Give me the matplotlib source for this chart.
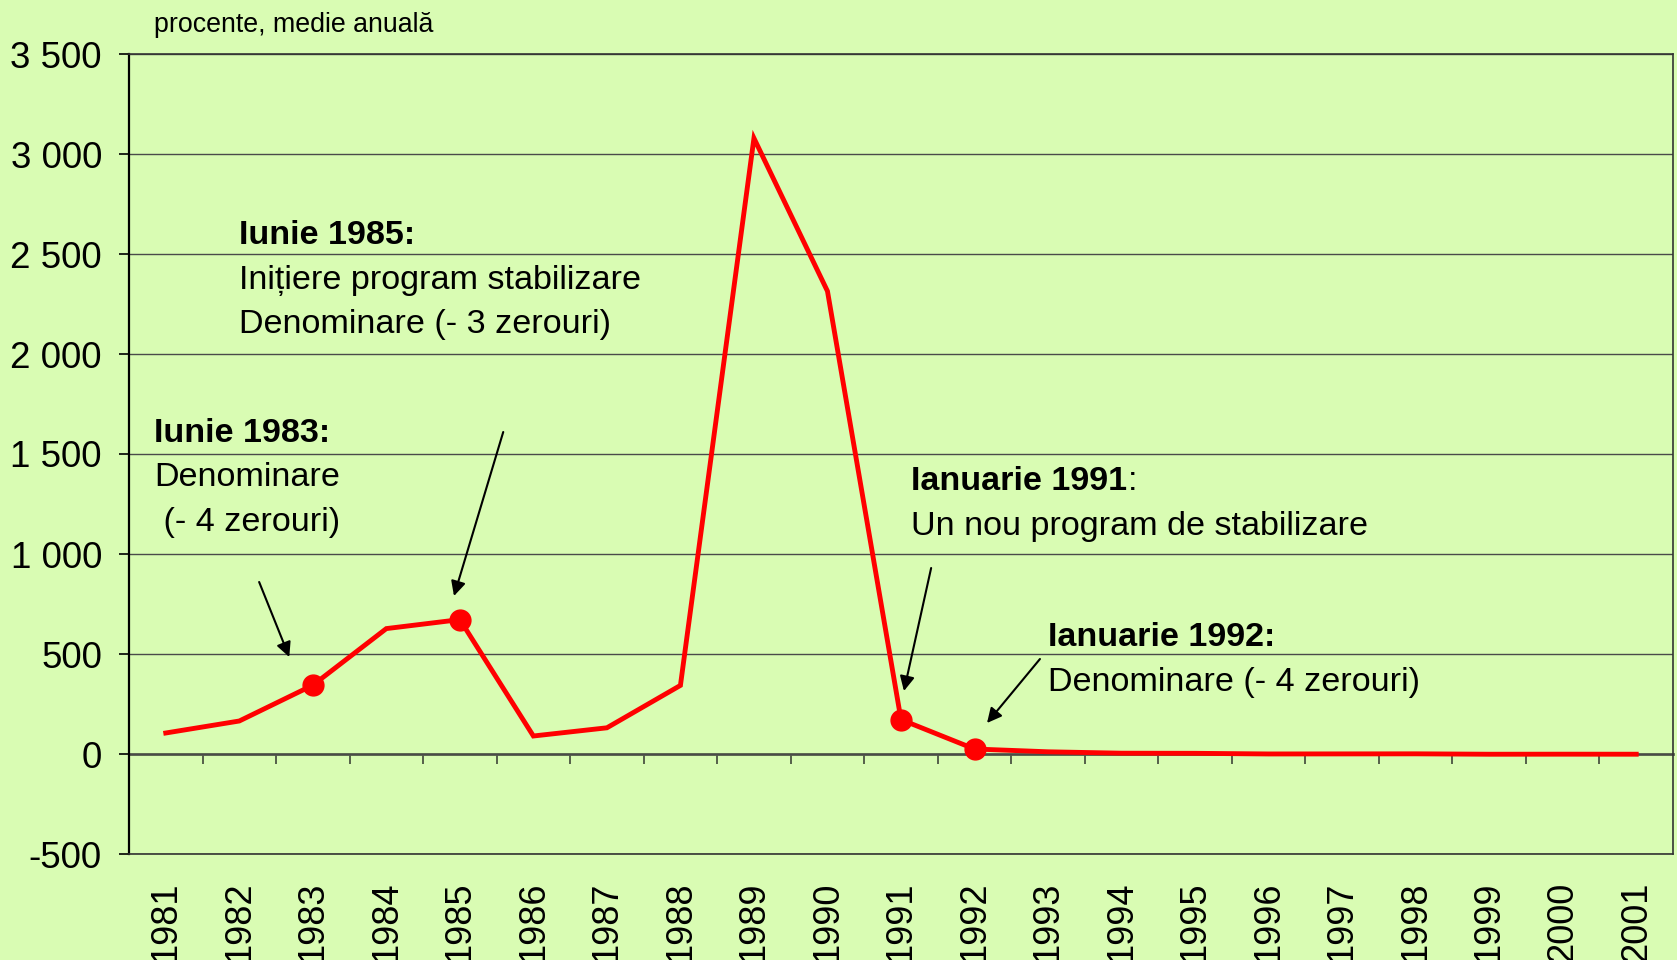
import matplotlib
matplotlib.use("Agg")
import matplotlib.pyplot as plt
from matplotlib.ticker import FixedLocator, FuncFormatter, NullFormatter

plt.rcParams["font.family"] = ["Liberation Sans", "DejaVu Sans"]

# inflatie anuala, procente
years = [str(y) for y in range(1981, 2002)]
inflation = [105, 165, 344, 627, 672, 90, 131, 343, 3079, 2314, 172,
             25, 11, 4, 3.4, 0.2, 0.5, 0.9, -1.2, -0.9, -1.1]
marked_years = ["1983", "1985", "1991", "1992"]
y_ticks = [-500, 0, 500, 1000, 1500, 2000, 2500, 3000, 3500]

BG = "#d9fcb3"

fig = plt.figure(figsize=(16.77, 9.6), dpi=100)
fig.patch.set_facecolor(BG)
ax = fig.add_axes([129 / 1677, 1 - 854 / 960, 1544 / 1677, 800 / 960])
ax.set_facecolor(BG)

x = list(range(len(years)))
ax.plot(x, inflation, color="#ff0000", lw=3.5, solid_joinstyle="miter", zorder=4)
mx = [years.index(y) for y in marked_years]
ax.plot(mx, [inflation[i] for i in mx], "o", color="#ff0000", ms=15, zorder=5)

ax.set_xlim(-0.5, len(years) - 0.5)
ax.set_ylim(y_ticks[0], y_ticks[-1])
ax.set_yticks(y_ticks)
ax.yaxis.set_major_formatter(FuncFormatter(lambda v, _: f"{v:,.0f}".replace(",", " ")))
ax.tick_params(axis="y", direction="out", length=7.5, width=1.2, pad=12, labelsize=26.5)
ax.yaxis.grid(True, color="#4a4a4a", lw=1.0)
ax.set_axisbelow(True)

ax.set_xticks(x)
ax.set_xticklabels(years, rotation=90, va="top", ha="center")
ax.tick_params(axis="x", length=0, pad=20, labelsize=26)

for side in ["top", "right", "bottom"]:
    ax.spines[side].set_color("#333333")
    ax.spines[side].set_linewidth(1.2)
ax.spines["left"].set_color("black")
ax.spines["left"].set_linewidth(1.6)

# axa categoriilor trece prin 0, cu gradatii intre ani
zero_pos = (0 - y_ticks[0]) / (y_ticks[-1] - y_ticks[0])
sec = ax.secondary_xaxis(zero_pos)
sec.xaxis.set_major_locator(FixedLocator([i + 0.5 for i in range(len(years) - 1)]))
sec.xaxis.set_major_formatter(NullFormatter())
sec.tick_params(direction="out", length=7.5, width=1.4, color="#555f4a")
sec.spines["bottom"].set_color("#555f4a")
sec.spines["bottom"].set_linewidth(2.0)

fig.text(154 / 1677, 1 - 32 / 960, "procente, medie anuală", fontsize=19.3, va="baseline")

TXT = 24.6
arrow = dict(arrowstyle="-|>", color="black", lw=1.5, mutation_scale=22, shrinkA=0, shrinkB=0)

# Iunie 1983
ax.text(-0.16, 1600, "Iunie 1983:", fontsize=TXT, fontweight="bold", va="center")
ax.text(-0.16, 1380, "Denominare", fontsize=TXT, va="center")
ax.text(-0.16, 1160, " (- 4 zerouri)", fontsize=TXT, va="center")
ax.annotate("", xy=(1.68, 485), xytext=(1.27, 860), arrowprops=arrow)

# Iunie 1985
ax.text(0.99, 2590, "Iunie 1985:", fontsize=TXT, fontweight="bold", va="center")
ax.text(0.99, 2370, "Inițiere program stabilizare", fontsize=TXT, va="center")
ax.text(0.99, 2150, "Denominare (- 3 zerouri)", fontsize=TXT, va="center")
ax.annotate("", xy=(3.92, 790), xytext=(4.59, 1610), arrowprops=arrow)

# Ianuarie 1991
t91 = ax.text(10.14, 1360, "Ianuarie 1991", fontsize=TXT, fontweight="bold", va="center")
ax.annotate(":", xy=(1, 0), xycoords=t91, fontsize=TXT, va="bottom", ha="left")
ax.text(10.14, 1135, "Un nou program de stabilizare", fontsize=TXT, va="center")
ax.annotate("", xy=(10.04, 315), xytext=(10.41, 930), arrowprops=arrow)

# Ianuarie 1992
ax.text(12.0, 585, "Ianuarie 1992:", fontsize=TXT, fontweight="bold", va="center")
ax.text(12.0, 360, "Denominare (- 4 zerouri)", fontsize=TXT, va="center")
ax.annotate("", xy=(11.17, 155), xytext=(11.89, 475), arrowprops=arrow)

fig.savefig("out.png", dpi=100, facecolor=BG)
